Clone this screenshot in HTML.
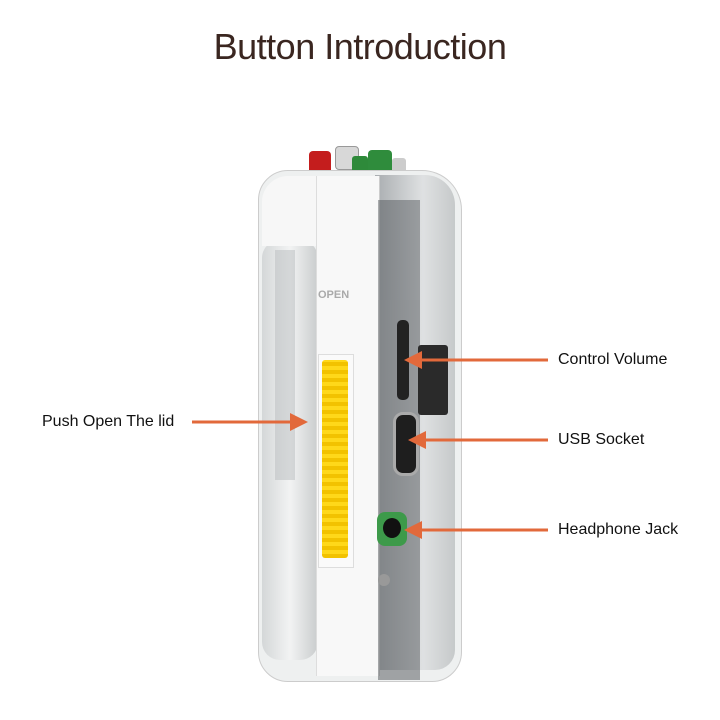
<!DOCTYPE html>
<html><head><style>
body{margin:0;width:720px;height:720px;background:#fff;position:relative;overflow:hidden;font-family:"Liberation Sans",sans-serif}
.a{position:absolute}
.t{font-size:16px;color:#111}
</style></head><body>
<div class="a" style="left:0;width:720px;top:26px;text-align:center;font-size:36px;color:#3a2620;letter-spacing:-0.5px">Button Introduction</div>

<!-- buttons top -->
<div class="a" style="left:335px;top:146px;width:22px;height:22px;background:#d8d8d8;border-radius:4px;border:1px solid #999"></div>
<div class="a" style="left:309px;top:151px;width:22px;height:26px;background:#c41d1d;border-radius:4px"></div>
<div class="a" style="left:352px;top:156px;width:16px;height:22px;background:#2e8a3a;border-radius:3px"></div>
<div class="a" style="left:368px;top:150px;width:24px;height:26px;background:#2f8c3c;border-radius:4px"></div>
<div class="a" style="left:392px;top:158px;width:14px;height:16px;background:#ccc;border-radius:3px"></div>

<!-- body -->
<div class="a" style="left:258px;top:170px;width:202px;height:510px;background:#eef0f0;border-radius:30px 40px 30px 30px;border:1px solid #ccc"></div>
<div class="a" style="left:262px;top:240px;width:56px;height:420px;background:linear-gradient(90deg,#d4d7d8,#f2f3f3,#c9cccd);border-radius:18px"></div>
<div class="a" style="left:275px;top:250px;width:20px;height:230px;background:#b8bcbe;opacity:.5"></div>
<div class="a" style="left:375px;top:175px;width:80px;height:495px;background:linear-gradient(90deg,#a9adb0,#dfe1e2 60%,#c6c9ca);border-radius:0 30px 20px 0"></div>
<!-- white panel -->
<div class="a" style="left:262px;top:176px;width:115px;height:70px;background:#f7f7f7;border-radius:26px 0 0 0"></div>
<div class="a" style="left:316px;top:176px;width:62px;height:500px;background:#f8f8f8;border-left:1px solid #ddd;border-right:1px solid #ccc"></div>
<div class="a" style="left:318px;top:289px;font-size:11px;color:#aaa;font-weight:bold">OPEN</div>
<!-- yellow slider -->
<div class="a" style="left:318px;top:354px;width:34px;height:212px;background:#fafafa;border:1px solid #ddd"></div>
<div class="a" style="left:322px;top:360px;width:26px;height:198px;background:repeating-linear-gradient(0deg,#f2c200 0 4px,#ffd81a 4px 8px);border-radius:3px"></div>
<!-- internals -->
<div class="a" style="left:378px;top:200px;width:42px;height:100px;background:#4a4e51;opacity:.45"></div>
<div class="a" style="left:378px;top:300px;width:42px;height:380px;background:#5f6366;opacity:.55"></div>
<div class="a" style="left:397px;top:320px;width:12px;height:80px;background:#222;border-radius:5px"></div>
<div class="a" style="left:418px;top:345px;width:30px;height:70px;background:#2a2a2a;border-radius:3px"></div>
<div class="a" style="left:393px;top:412px;width:20px;height:58px;background:#1e1e1e;border:3px solid #aaa;border-radius:10px"></div>
<div class="a" style="left:377px;top:512px;width:30px;height:34px;background:#3d9a4a;border-radius:8px"></div>
<div class="a" style="left:383px;top:518px;width:18px;height:20px;background:#111;border-radius:50%"></div>
<div class="a" style="left:378px;top:574px;width:12px;height:12px;background:#999;border-radius:50%"></div>

<!-- arrows -->
<svg class="a" style="left:0;top:0" width="720" height="720">
<g stroke="#e2693b" stroke-width="3" fill="#e2693b">
<line x1="548" y1="360" x2="420" y2="360"/><polygon points="404,360 422,351 422,369" stroke="none"/>
<line x1="548" y1="440" x2="424" y2="440"/><polygon points="408,440 426,431 426,449" stroke="none"/>
<line x1="548" y1="530" x2="420" y2="530"/><polygon points="404,530 422,521 422,539" stroke="none"/>
<line x1="192" y1="422" x2="292" y2="422"/><polygon points="308,422 290,413 290,431" stroke="none"/>
</g></svg>

<div class="a t" style="left:558px;top:351px">Control Volume</div>
<div class="a t" style="left:558px;top:431px">USB Socket</div>
<div class="a t" style="left:558px;top:521px">Headphone Jack</div>
<div class="a t" style="left:42px;top:413px">Push Open The lid</div>
</body></html>
